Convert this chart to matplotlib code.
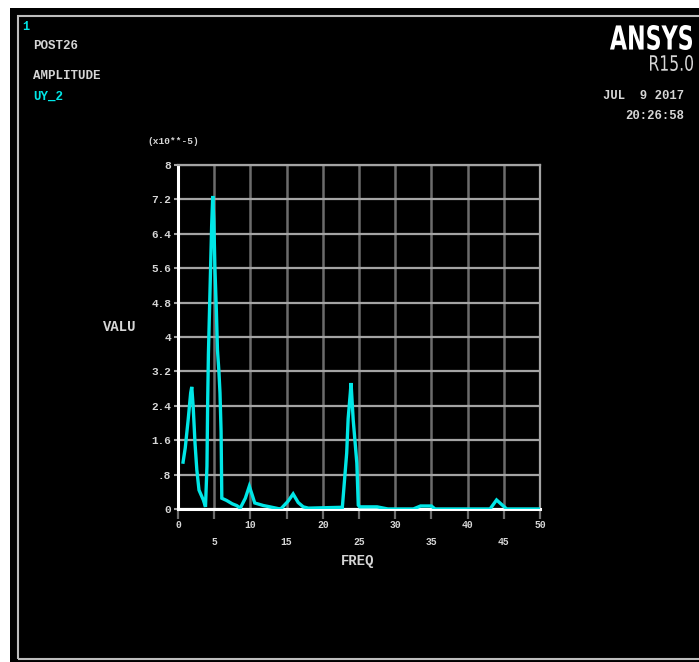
import matplotlib.pyplot as plt
from matplotlib.patches import Rectangle, PathPatch
from matplotlib.textpath import TextPath
from matplotlib.font_manager import FontProperties
from matplotlib.transforms import Affine2D, IdentityTransform

# POST26 amplitude response of UY_2 (values in units of 1e-5)
freq = [0.7, 1.0, 1.4, 1.75, 1.9, 2.1, 2.35, 2.6, 2.9, 3.5, 3.8,
        4.0, 4.1, 4.2, 4.35, 4.5, 4.65, 4.8, 4.95, 5.1, 5.3, 5.45, 5.65, 5.8, 5.95, 6.05,
        6.7, 7.5, 8.1, 8.6, 9.3, 9.85, 10.3, 10.6, 11.8, 12.7, 14.1,
        14.3, 15.2, 15.9, 16.6, 17.3, 18.0,
        22.7, 23.3, 23.5, 23.8, 23.9, 24.2, 24.7, 24.9, 25.1, 27.5,
        29.0, 32.5, 33.5, 35.0, 35.5, 43.1, 44.0, 45.4, 50.0]
amp = [1.09, 1.42, 2.07, 2.70, 2.84, 2.37, 1.53, 0.91, 0.44, 0.21, 0.05,
       1.0, 2.5, 3.6, 4.6, 5.6, 6.6, 7.28, 6.7, 5.6, 4.6, 3.7, 3.2, 2.7, 1.8, 0.25,
       0.2, 0.12, 0.08, 0.02, 0.25, 0.53, 0.3, 0.14, 0.08, 0.05, 0.0,
       0.02, 0.18, 0.35, 0.15, 0.05, 0.02,
       0.04, 1.3, 2.1, 2.7, 2.93, 2.07, 1.07, 0.09, 0.05, 0.05,
       0.0, 0.0, 0.07, 0.07, 0.0, 0.0, 0.21, 0.0, 0.0]

xticks_even = [0, 10, 20, 30, 40, 50]
xticks_odd = [5, 15, 25, 35, 45]
yticks = [0, 0.8, 1.6, 2.4, 3.2, 4, 4.8, 5.6, 6.4, 7.2, 8]

W, H = 699, 662
txt = '#d6d6d6'
cyan = '#00e6e6'
hgrid = '#a4a4a4'
vgrid = '#6c6c6c'
mono = 'Liberation Mono'

fig = plt.figure(figsize=(W / 100, H / 100), dpi=100, facecolor='white')

# black graphics window and its frame
fig.patches.append(Rectangle((10 / W, 0), (W - 10) / W, (H - 8) / H,
                             transform=fig.transFigure, facecolor='black',
                             edgecolor='none', zorder=-3))
fig.patches.append(Rectangle((18 / W, (H - 659) / H), (W - 10) / W, (659 - 16) / H,
                             transform=fig.transFigure, facecolor='none',
                             edgecolor='#bdbdbd', lw=1.5, zorder=-2))


def fx(px):
    return px / W


def fy(py):
    return 1 - py / H


def squeezed_text(s, left, top, right, bottom, color, weight='normal'):
    # text outline stretched into a pixel box (condensed logo lettering)
    tp = TextPath((0, 0), s, size=1, prop=FontProperties(family='DejaVu Sans', weight=weight))
    ext = tp.get_extents()
    sx = (right - left) / ext.width
    sy = (bottom - top) / ext.height
    tr = Affine2D().translate(-ext.x0, -ext.y0).scale(sx, sy).translate(left, H - bottom)
    fig.patches.append(PathPatch(tr.transform_path(tp), transform=IdentityTransform(),
                                 facecolor=color, edgecolor='none', zorder=5))


ax = fig.add_axes([fx(178), fy(509), (540 - 178) / W, (509 - 165) / H])
ax.set_facecolor('black')
ax.plot(freq, amp, color=cyan, lw=2.4, solid_joinstyle='miter', zorder=3)

ax.set_xlim(0, 50)
ax.set_ylim(0, 8)
ax.set_xticks(xticks_even)
ax.set_xticks(xticks_odd, minor=True)
ax.set_xticklabels([str(v) for v in xticks_even], family=mono, fontweight='bold',
                   fontsize=7, color=txt)
ax.set_xticklabels([str(v) for v in xticks_odd], minor=True, family=mono,
                   fontweight='bold', fontsize=7, color=txt)
ax.set_yticks(yticks)
ax.set_yticklabels([('%g' % v).lstrip('0') or '0' for v in yticks], family=mono,
                   fontweight='bold', fontsize=8, color=txt)

ax.tick_params(axis='x', which='major', length=7, width=1.6, color=vgrid, pad=1)
ax.tick_params(axis='x', which='minor', length=7, width=1.6, color=vgrid, pad=13)
ax.tick_params(axis='y', length=3, width=1.5, color=hgrid, pad=2)

ax.grid(True, which='both', axis='x', color=vgrid, lw=1.8, zorder=1)
ax.grid(True, axis='y', color=hgrid, lw=1.6, zorder=1)
ax.set_axisbelow(True)

for side in ('left', 'bottom'):
    ax.spines[side].set_color('white')
    ax.spines[side].set_linewidth(2.2)
ax.spines['top'].set_color(hgrid)
ax.spines['top'].set_linewidth(1.6)
ax.spines['right'].set_color(hgrid)
ax.spines['right'].set_linewidth(1.6)

# annotations around the plot
fig.text(fx(22), fy(27), '1', color=cyan, family=mono, fontweight='bold',
         fontsize=8.5, va='center')
fig.text(fx(33), fy(46), 'POST26', color=txt, family=mono, fontweight='bold',
         fontsize=9, va='center')
fig.text(fx(33), fy(76), 'AMPLITUDE', color=txt, family=mono, fontweight='bold',
         fontsize=9, va='center')
fig.text(fx(33), fy(97), 'UY_2', color=cyan, family=mono, fontweight='bold',
         fontsize=9, va='center')
squeezed_text('ANSYS', 610, 25, 692, 50, 'white', weight='bold')
squeezed_text('R15.0', 650, 55, 693, 71, txt)
fig.text(fx(684), fy(96), 'JUL  9 2017', color=txt, family=mono, fontweight='bold',
         fontsize=8.8, ha='right', va='center')
fig.text(fx(684), fy(116), '20:26:58', color=txt, family=mono, fontweight='bold',
         fontsize=8.8, ha='right', va='center')
fig.text(fx(147), fy(141), '(x10**-5)', color=txt, family=mono, fontweight='bold',
         fontsize=6.8, va='center')
fig.text(fx(103), fy(327), 'VALU', color=txt, family=mono, fontweight='bold',
         fontsize=10, va='center')
fig.text(fx(358), fy(561), 'FREQ', color=txt, family=mono, fontweight='bold',
         fontsize=10, ha='center', va='center')

fig.savefig('out.png', dpi=100, facecolor='white')
